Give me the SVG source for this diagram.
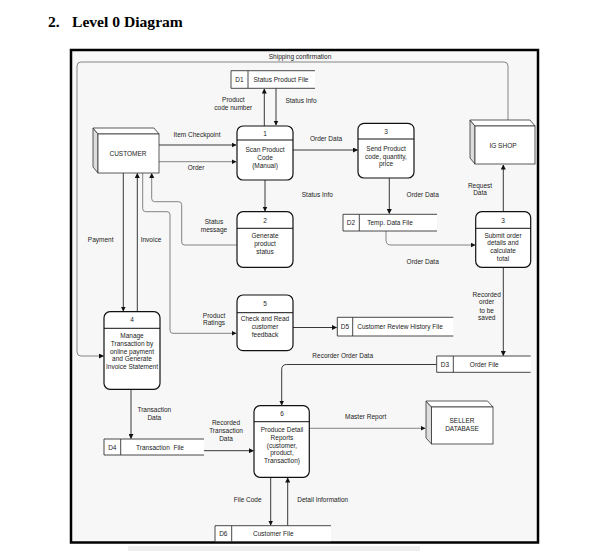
<svg xmlns="http://www.w3.org/2000/svg" width="597" height="551" viewBox="0 0 597 551">
<style>
.t{font-family:"Liberation Sans",Arial,sans-serif;font-size:6.5px;fill:#222;text-anchor:middle}
.title{font-family:"Liberation Serif","Times New Roman",serif;font-size:15.6px;font-weight:bold;fill:#000}
.proc{fill:#fff;stroke:#111;stroke-width:1.2}
.hl{stroke:#111;stroke-width:1}
.ds{fill:#fff;stroke:none}
.dsl{stroke:#333;stroke-width:0.9;fill:none}
.cf{fill:#fff;stroke:#333;stroke-width:0.8}
.cs{fill:#ddd;stroke:#333;stroke-width:0.8}
.c{fill:none;stroke:#222;stroke-width:0.9}
.g{fill:none;stroke:#777;stroke-width:0.9}
</style>
<defs>
<marker id="a" viewBox="0 0 10 10" refX="9" refY="5" markerWidth="5" markerHeight="5" orient="auto" markerUnits="userSpaceOnUse">
<path d="M0,0 L10,5 L0,10 Z" fill="#111"/>
</marker>
</defs>
<rect width="597" height="551" fill="#fff"/>
<text class="title" x="48" y="27">2.</text>
<text class="title" x="72" y="27">Level 0 Diagram</text>
<rect x="71" y="50" width="467" height="492.5" fill="#f7f7f7" stroke="#000" stroke-width="2.5"/>
<rect x="128" y="546" width="292" height="5" fill="#eee"/>

<g id="connectors">
<path class="c" d="M159,145 H236" marker-end="url(#a)"/>
<path class="g" d="M159,161.7 H236" marker-end="url(#a)"/>
<path class="c" d="M264.3,126 V89" marker-end="url(#a)"/>
<path class="c" d="M276,88.3 V125" marker-end="url(#a)"/>
<path class="c" d="M293,150 H357.5" marker-end="url(#a)"/>
<path class="c" d="M265,180 V211" marker-end="url(#a)"/>
<path class="c" d="M389.3,178 V213.5" marker-end="url(#a)"/>
<path class="g" d="M386,231 V240 Q386,245 391,245 H475" marker-end="url(#a)"/>
<path class="c" d="M503.3,211.7 V165" marker-end="url(#a)"/>
<path class="c" d="M503.3,267.3 V355.5" marker-end="url(#a)"/>
<path class="c" d="M436.7,364.5 H286.7 Q281.7,364.5 281.7,369.5 V405" marker-end="url(#a)"/>
<path class="g" d="M309.3,428.3 H425" marker-end="url(#a)"/>
<path class="c" d="M204,450.7 H253.5" marker-end="url(#a)"/>
<path class="c" d="M131,389.3 V438.5" marker-end="url(#a)"/>
<path class="c" d="M270.7,477.3 V525" marker-end="url(#a)"/>
<path class="c" d="M287.7,525.7 V478" marker-end="url(#a)"/>
<path class="c" d="M123.3,173 V311" marker-end="url(#a)"/>
<path class="c" d="M137.3,311.7 V173.5" marker-end="url(#a)"/>
<path class="g" d="M236.7,245 H184.7 Q181.7,245 181.7,242 V204.7 Q181.7,201.7 178.7,201.7 H154.7 Q151.7,201.7 151.7,198.7 V173.5" marker-end="url(#a)"/>
<path class="g" d="M142.7,173 V208.7 Q142.7,211.7 145.7,211.7 H167 Q170,211.7 170,214.7 V330.3 Q170,333.3 173,333.3 H236" marker-end="url(#a)"/>
<path class="c" d="M292.7,327.5 H336.5" marker-end="url(#a)"/>
<path class="g" d="M508,120 V66 Q508,62 504,62 H81 Q77,62 77,66 V352 Q77,356 81,356 H103.5" marker-end="url(#a)"/>
<text class="t" x="300" y="59">Shipping confirmation</text>
<text class="t" x="197" y="136.5">Item Checkpoint</text>
<text class="t" x="196" y="169.5">Order</text>
<text class="t" x="233.3" y="102">Product</text>
<text class="t" x="233.3" y="110">code number</text>
<text class="t" x="301" y="103">Status Info</text>
<text class="t" x="326" y="141">Order Data</text>
<text class="t" x="317.3" y="197">Status Info</text>
<text class="t" x="422.7" y="197">Order Data</text>
<text class="t" x="422.7" y="264">Order Data</text>
<text class="t" x="480" y="187.5">Request</text>
<text class="t" x="480" y="195">Data</text>
<text class="t" x="486.7" y="296.5">Recorded</text>
<text class="t" x="486.7" y="304.3">order</text>
<text class="t" x="486.7" y="312.5">to be</text>
<text class="t" x="486.7" y="320.3">saved</text>
<text class="t" x="342.7" y="358">Recorder Order Data</text>
<text class="t" x="365.7" y="418.7">Master Report</text>
<text class="t" x="226" y="425.3">Recorded</text>
<text class="t" x="226" y="433">Transaction</text>
<text class="t" x="226" y="440.7">Data</text>
<text class="t" x="154.3" y="412">Transaction</text>
<text class="t" x="154.3" y="420">Data</text>
<text class="t" x="247.7" y="501.5">File Code</text>
<text class="t" x="322.7" y="501.5">Detail Information</text>
<text class="t" x="100.7" y="241.5">Payment</text>
<text class="t" x="151" y="241.5">Invoice</text>
<text class="t" x="214" y="223.7">Status</text>
<text class="t" x="214" y="231.7">message</text>
<text class="t" x="214" y="317.7">Product</text>
<text class="t" x="214" y="325.3">Ratings</text>
</g>

<g id="customer">
<polygon class="cs" points="93,128 98,134 98,173 93,167"/>
<polygon class="cf" points="93,128 154,128 159,134 98,134"/>
<rect class="cf" x="98" y="134" width="61" height="39"/>
<text class="t" x="128" y="156">CUSTOMER</text>
</g>

<g id="igshop">
<polygon class="cs" points="470,120 475,126 475,164 470,158"/>
<polygon class="cf" points="470,120 530,120 535,126 475,126"/>
<rect class="cf" x="475" y="126" width="60" height="38"/>
<text class="t" x="503" y="148">IG SHOP</text>
</g>

<g id="seller">
<polygon class="cs" points="426,401 431.5,407 431.5,444 426,438"/>
<polygon class="cf" points="426,401 487.5,401 493,407 431.5,407"/>
<rect class="cf" x="431.5" y="407" width="61.5" height="37"/>
<text class="t" x="462" y="423">SELLER</text>
<text class="t" x="462" y="431">DATABASE</text>
</g>

<g id="p1">
<rect class="proc" x="237" y="126" width="56" height="54" rx="6"/>
<line class="hl" x1="237" y1="140" x2="293" y2="140"/>
<text class="t" x="265" y="135.5">1</text>
<text class="t" x="265" y="151.5">Scan Product</text>
<text class="t" x="265" y="159.5">Code</text>
<text class="t" x="265" y="167.7">(Manual)</text>
</g>

<g id="p3a">
<rect class="proc" x="358" y="123.3" width="56" height="54.7" rx="6"/>
<line class="hl" x1="358" y1="139" x2="414" y2="139"/>
<text class="t" x="386" y="133.5">3</text>
<text class="t" x="386" y="150.5">Send Product</text>
<text class="t" x="386" y="158.5">code, quantity,</text>
<text class="t" x="386" y="166">price</text>
</g>

<g id="p2">
<rect class="proc" x="237" y="211.7" width="56" height="55.6" rx="6"/>
<line class="hl" x1="237" y1="228.3" x2="293" y2="228.3"/>
<text class="t" x="265" y="222.7">2</text>
<text class="t" x="265" y="238">Generate</text>
<text class="t" x="265" y="245.5">product</text>
<text class="t" x="265" y="253.5">status</text>
</g>

<g id="p3b">
<rect class="proc" x="475.7" y="211.7" width="55" height="55.6" rx="6"/>
<line class="hl" x1="475.7" y1="228.3" x2="530.7" y2="228.3"/>
<text class="t" x="503" y="222.7">3</text>
<text class="t" x="503" y="237.7">Submit order</text>
<text class="t" x="503" y="245.3">details and</text>
<text class="t" x="503" y="252.7">calculate</text>
<text class="t" x="503" y="260.7">total</text>
</g>

<g id="p5">
<rect class="proc" x="237" y="295" width="56" height="55.7" rx="6"/>
<line class="hl" x1="237" y1="312.7" x2="293" y2="312.7"/>
<text class="t" x="265" y="306">5</text>
<text class="t" x="265" y="321">Check and Read</text>
<text class="t" x="265" y="329">customer</text>
<text class="t" x="265" y="337">feedback</text>
</g>

<g id="p4">
<rect class="proc" x="104" y="311.7" width="56" height="77.6" rx="6"/>
<line class="hl" x1="104" y1="328.3" x2="160" y2="328.3"/>
<text class="t" x="132" y="322">4</text>
<text class="t" x="132" y="337.7">Manage</text>
<text class="t" x="132" y="345.7">Transaction by</text>
<text class="t" x="132" y="353.7">online payment</text>
<text class="t" x="132" y="361.3">and Generate</text>
<text class="t" x="132" y="368.7">Invoice Statement</text>
</g>

<g id="p6">
<rect class="proc" x="254" y="405.7" width="55.3" height="71.6" rx="6"/>
<line class="hl" x1="254" y1="421.7" x2="309.3" y2="421.7"/>
<text class="t" x="282" y="416">6</text>
<text class="t" x="282" y="432">Produce Detail</text>
<text class="t" x="282" y="439.7">Reports</text>
<text class="t" x="282" y="447.7">(customer,</text>
<text class="t" x="282" y="455.3">product,</text>
<text class="t" x="282" y="463.3">Transaction)</text>
</g>

<g id="d1">
<rect class="ds" x="231" y="70.7" width="84" height="17.6"/>
<path class="dsl" d="M315,70.7 H231 V88.3 H315 M248,70.7 V88.3"/>
<text class="t" x="239.5" y="81.5">D1</text>
<text class="t" x="281" y="81.5">Status Product File</text>
</g>

<g id="d2">
<rect class="ds" x="343" y="214.3" width="94" height="16.7"/>
<path class="dsl" d="M437,214.3 H343 V231 H437 M359.3,214.3 V231"/>
<text class="t" x="351" y="225">D2</text>
<text class="t" x="390" y="225">Temp. Data File</text>
</g>

<g id="d5">
<rect class="ds" x="337.3" y="317.3" width="116" height="18.7"/>
<path class="dsl" d="M453.3,317.3 H337.3 V336 H453.3 M352.7,317.3 V336"/>
<text class="t" x="345" y="329">D5</text>
<text class="t" x="400" y="329">Customer Review History File</text>
</g>

<g id="d3">
<rect class="ds" x="436.7" y="356" width="94" height="16.3"/>
<path class="dsl" d="M530.7,356 H436.7 V372.3 H530.7 M453.3,356 V372.3"/>
<text class="t" x="445" y="366.7">D3</text>
<text class="t" x="484.3" y="366.7">Order File</text>
</g>

<g id="d4">
<rect class="ds" x="104" y="439" width="100" height="16"/>
<path class="dsl" d="M204,439 H104 V455 H204 M120.7,439 V455"/>
<text class="t" x="112.3" y="449.7">D4</text>
<text class="t" x="160" y="449.7" xml:space="preserve">Transaction  File</text>
</g>

<g id="d6">
<rect class="ds" x="215" y="525.7" width="116" height="16"/>
<path class="dsl" d="M331,525.7 H215 V541.7 H331 M231.7,525.7 V541.7"/>
<text class="t" x="223.3" y="536">D6</text>
<text class="t" x="273.3" y="536">Customer File</text>
</g>
</svg>
